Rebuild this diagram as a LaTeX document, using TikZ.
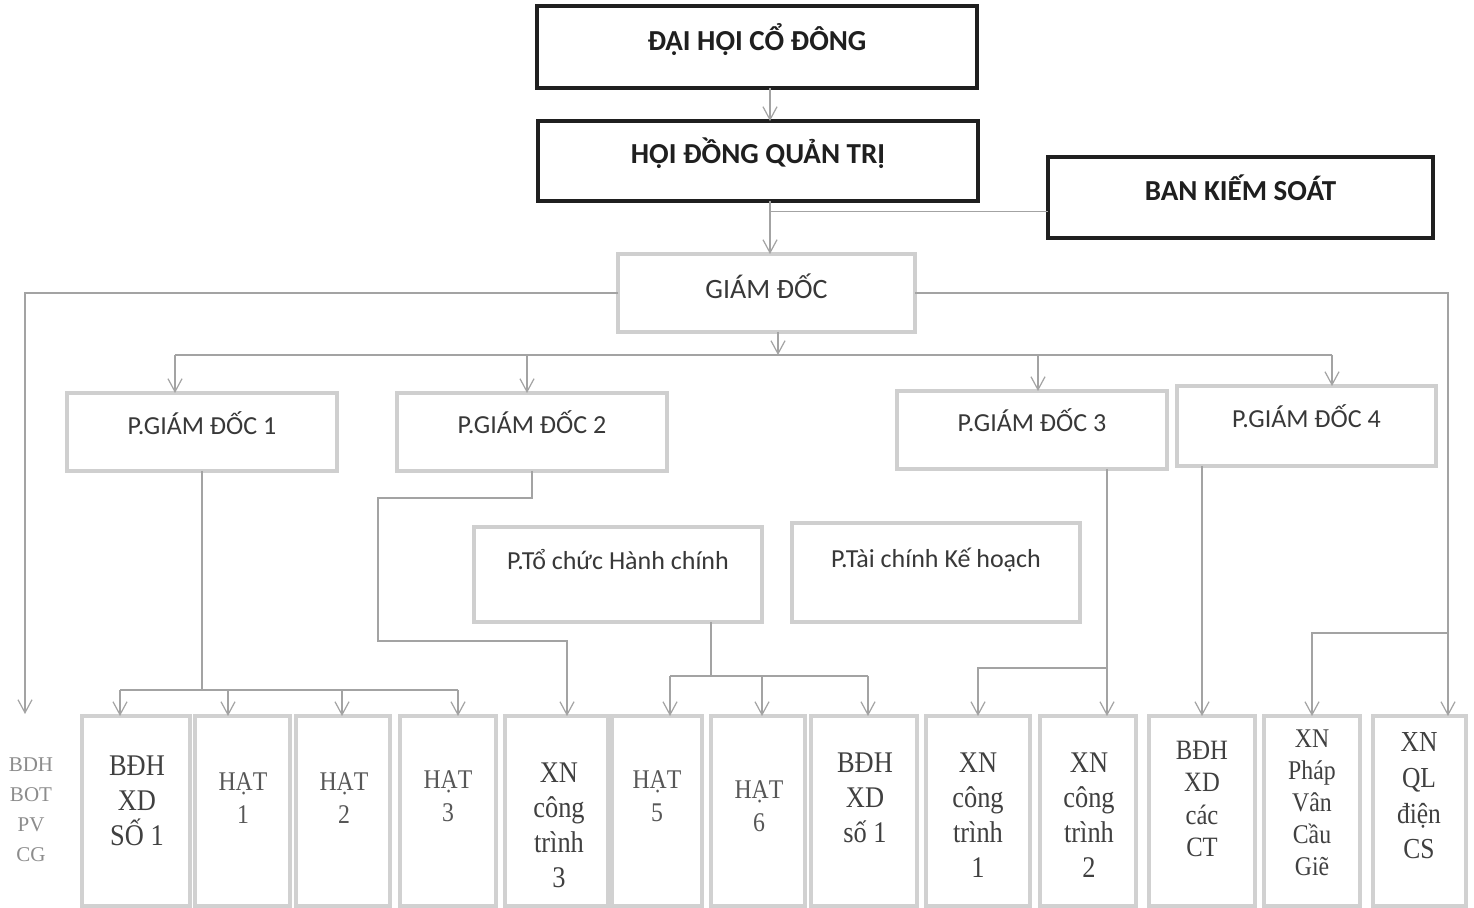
\documentclass[tikz,border=0pt]{standalone}
\usepackage{fontspec}
\setmainfont{Carlito}
\newfontfamily\calfont{Carlito}
\newfontfamily\serfont[FakeStretch=0.88]{Liberation Serif}
\newfontfamily\serplain{Liberation Serif}
\usetikzlibrary{arrows.meta,calc}
\begin{document}
\begin{tikzpicture}[x=0.5pt,y=-0.5pt,
  every node/.style={inner sep=0pt, outer sep=0pt},
  topbox/.style={draw=black!88, line width=2pt, font=\calfont\bfseries\fontsize{14.5}{16}\selectfont, text=black!88},
  midbox/.style={draw=black!19, line width=2pt, font=\calfont\fontsize{13}{15}\selectfont, text=black!78},
  lowbox/.style={draw=black!18, line width=1.6pt, minimum height=95pt},
  lowtxt/.style={align=center, text=black!75, font=\serfont\fontsize{15}{17.5}\selectfont},
  hattxt/.style={align=center, text=black!66, font=\serfont\fontsize{13.5}{16.5}\selectfont},
  conn/.style={draw=black!36, line width=0.6pt},
  arr/.style={conn, -{Straight Barb[length=6.5pt,width=7pt,line width=0.6pt]}}
]
\useasboundingbox (0,0) rectangle (1474,908);
\fill[white] (0,0) rectangle (1474,908);

% top level
\node[topbox, minimum width=220pt, minimum height=41pt] (dh) at (757,47) {\raisebox{9.5pt}{ĐẠI HỘI CỔ ĐÔNG}};
\node[topbox, minimum width=220pt, minimum height=40pt] (hd) at (758,161) {\raisebox{10.5pt}{HỘI ĐỒNG QUẢN TRỊ}};
\node[topbox, minimum width=192.5pt, minimum height=40.5pt] (bks) at (1240.5,197.5) {\raisebox{9.5pt}{BAN KIẾM SOÁT}};
\node[midbox, minimum width=148.5pt, minimum height=39pt, font=\calfont\fontsize{14}{16}\selectfont] (gd) at (766.5,293) {\raisebox{7pt}{GIÁM ĐỐC}};

% deputy directors
\node[midbox, minimum width=135pt, minimum height=39pt] (pgd1) at (202,432) {\raisebox{9pt}{P.GIÁM ĐỐC 1}};
\node[midbox, minimum width=135pt, minimum height=39pt] (pgd2) at (532,432) {\raisebox{9.5pt}{P.GIÁM ĐỐC 2}};
\node[midbox, minimum width=135pt, minimum height=39pt] (pgd3) at (1032,430) {\raisebox{9.5pt}{P.GIÁM ĐỐC 3}};
\node[midbox, minimum width=129.5pt, minimum height=40pt] (pgd4) at (1306.5,426) {\raisebox{9.5pt}{P.GIÁM ĐỐC 4}};
\node[midbox, minimum width=144pt, minimum height=47.5pt] (ptc) at (618,574.5) {\raisebox{15pt}{P.Tổ chức Hành chính}};
\node[midbox, minimum width=144pt, minimum height=49.5pt] (ptk) at (936,572.5) {\raisebox{14.5pt}{P.Tài chính Kế hoạch}};

% bottom row boxes
\node[lowbox, minimum width=54pt] (b1) at (136,811) {};
\node[lowbox, minimum width=47.5pt] (b2) at (242.5,811) {};
\node[lowbox, minimum width=47pt] (b3) at (343,811) {};
\node[lowbox, minimum width=48pt] (b4) at (448,811) {};
\node[lowbox, minimum width=51.5pt] (b5) at (556.5,811) {};
\node[lowbox, minimum width=45pt] (b6) at (657,811) {};
\node[lowbox, minimum width=47pt] (b7) at (758,811) {};
\node[lowbox, minimum width=53pt] (b8) at (864,811) {};
\node[lowbox, minimum width=52pt] (b9) at (978,811) {};
\node[lowbox, minimum width=48pt] (b10) at (1088,811) {};
\node[lowbox, minimum width=53pt] (b11) at (1202,811) {};
\node[lowbox, minimum width=48pt] (b12) at (1312,811) {};
\node[lowbox, minimum width=46.5pt] (b13) at (1419.5,811) {};

% bottom row texts
\node[align=center, text=black!45, font=\serplain\fontsize{10.5}{15}\selectfont] (t0) at (31,810) {BDH\\BOT\\PV\\CG};
\node[lowtxt] (t1) at (137,801) {BĐH\\XD\\SỐ 1};
\node[hattxt] (t2) at (243,798) {HẠT\\1};
\node[hattxt] (t3) at (344,798) {HẠT\\2};
\node[hattxt] (t4) at (448,796) {HẠT\\3};
\node[lowtxt] (t5) at (559,825) {XN\\công\\trình\\3};
\node[hattxt] (t6) at (657,796) {HẠT\\5};
\node[hattxt] (t7) at (759,806) {HẠT\\6};
\node[lowtxt] (t8) at (865,798) {BĐH\\XD\\số 1};
\node[lowtxt] (t9) at (978,815) {XN\\công\\trình\\1};
\node[lowtxt] (t10) at (1089,815) {XN\\công\\trình\\2};
\node[lowtxt, font=\serfont\fontsize{14}{16.3}\selectfont] (t11) at (1202,799) {BĐH\\XD\\các\\CT};
\node[lowtxt, font=\serfont\fontsize{13.5}{16}\selectfont] (t12) at (1312,803) {XN\\Pháp\\Vân\\Cầu\\Giẽ};
\node[lowtxt, font=\serfont\fontsize{14.5}{17.8}\selectfont] (t13) at (1419,796) {XN\\QL\\điện\\CS};

% helper coordinates
\coordinate (vx) at (770,0);
\coordinate (bk1) at ([yshift=-7pt]bks.west);
\coordinate (b0in) at (25,714);
\coordinate (rx) at (1448,0);
\coordinate (pv) at (1448,633);
\coordinate (g0) at (778,355);
\coordinate (a1) at (175,355);
\coordinate (a2) at (527,355);
\coordinate (a3) at (1038,355);
\coordinate (a4) at (1332,355);
\coordinate (c1) at (120,690);
\coordinate (c2) at (228,690);
\coordinate (c3) at (342,690);
\coordinate (c4) at (458,690);
\coordinate (d1) at (378,498);
\coordinate (d2) at (567,641);
\coordinate (e0) at (711,676);
\coordinate (e1) at (670,676);
\coordinate (e2) at (762,676);
\coordinate (e3) at (868,676);
\coordinate (f0) at (1107,668);

% top connectors
\draw[arr] (dh.south -| vx) -- (hd.north -| vx);
\draw[arr] (hd.south -| vx) -- (gd.north -| vx);
\draw[conn] (bk1) -- (vx |- bk1);

% director outputs
\draw[arr] (gd.west) -| (b0in);
\draw[arr] (gd.east) -| (b13.north -| rx);
\draw[arr] (pv) -| (b12.north);
\draw[arr] (gd.south -| g0) -- (g0);
\draw[conn] (a1) -- (a4);
\draw[arr] (a1) -- (a1 |- pgd1.north);
\draw[arr] (a2) -- (a2 |- pgd2.north);
\draw[arr] (a3) -- (a3 |- pgd3.north);
\draw[arr] (a4) -- (a4 |- pgd4.north);

% P.GD 1 branch
\draw[conn] (pgd1.south) -- (pgd1.south |- c1);
\draw[conn] (c1) -- (c4);
\draw[arr] (c1) -- (c1 |- b1.north);
\draw[arr] (c2) -- (c2 |- b2.north);
\draw[arr] (c3) -- (c3 |- b3.north);
\draw[arr] (c4) -- (c4 |- b4.north);

% P.GD 2 branch
\draw[arr] (pgd2.south) |- (d1) |- (d2) -- (d2 |- b5.north);

% P.To chuc branch
\draw[conn] (ptc.south -| e0) -- (e0);
\draw[conn] (e1) -- (e3);
\draw[arr] (e1) -- (e1 |- b6.north);
\draw[arr] (e2) -- (e2 |- b7.north);
\draw[arr] (e3) -- (e3 |- b8.north);

% P.GD 3 branch
\draw[arr] (pgd3.south -| f0) -- (f0 |- b10.north);
\draw[arr] (f0) -| (b9.north);

% P.GD 4 branch
\draw[arr] (pgd4.south -| b11.north) -- (b11.north);
\end{tikzpicture}
\end{document}
